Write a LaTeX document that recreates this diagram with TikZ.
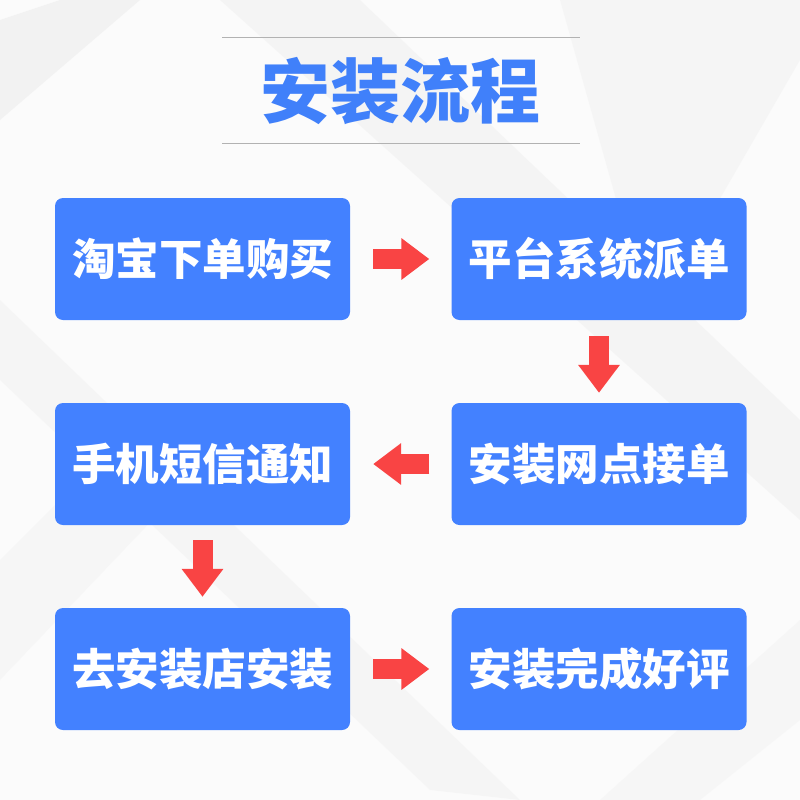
\documentclass[tikz,border=0pt]{standalone}
\usepackage{fontspec}
\newfontfamily\cjk{Noto Sans CJK SC}
\usetikzlibrary{arrows.meta}
\definecolor{boxblue}{HTML}{4381FF}
\definecolor{titleblue}{HTML}{4080FA}
\definecolor{arrowred}{HTML}{F94444}
\definecolor{bgshade}{HTML}{E6E6E6}
\tikzset{
  stepbox/.style={rounded corners=8pt, fill=boxblue, minimum width=295pt, minimum height=122pt,
    text=white, inner sep=0pt, font=\cjk\bfseries\fontsize{43.5}{43.5}\selectfont},
  flowarrow/.style={arrowred, line width=20pt, -{Triangle[length=28pt,width=40pt]}},
  rule/.style={draw=gray!60, line width=0.8pt}
}
\begin{document}
\begin{tikzpicture}[x=1pt,y=-1pt]
\useasboundingbox (0,0) rectangle (800,800);
\fill[white!97!gray] (0,0) rectangle (800,800);
% faint background geometry
\fill[bgshade, opacity=0.4] (0,20) -- (60,0) -- (140,0) -- (0,120) -- cycle;
\fill[bgshade, opacity=0.3] (220,0) -- (360,0) -- (800,420) -- (800,520) -- cycle;
\fill[bgshade, opacity=0.25] (0,300) -- (0,380) -- (430,790) -- (520,800) -- cycle;
\fill[bgshade, opacity=0.25] (560,0) -- (800,0) -- (800,60) -- (650,320) -- cycle;
\fill[bgshade, opacity=0.2] (0,560) -- (130,430) -- (200,470) -- (0,680) -- cycle;
\fill[bgshade, opacity=0.2] (600,800) -- (800,620) -- (800,720) -- (700,800) -- cycle;
% title
\coordinate (t1) at (222,37); \coordinate (t2) at (580,37);
\coordinate (b1) at (222,143); \coordinate (b2) at (580,143);
\draw[rule] (t1) -- (t2);
\draw[rule] (b1) -- (b2);
\node[font=\cjk\bfseries\fontsize{70}{70}\selectfont, text=titleblue] (title) at (400,91) {安装流程};
% boxes
\node[stepbox] (n1) at (202.5,259) {淘宝下单购买};
\node[stepbox] (n2) at (599,259) {平台系统派单};
\node[stepbox] (n3) at (599,464) {安装网点接单};
\node[stepbox] (n4) at (202.5,464) {手机短信通知};
\node[stepbox] (n5) at (202.5,669) {去安装店安装};
\node[stepbox] (n6) at (599,669) {安装完成好评};
% arrows
\draw[flowarrow, shorten <=23pt, shorten >=22pt] (n1.east) -- (n2.west);
\draw[flowarrow, shorten <=16pt, shorten >=10pt] (n2.south) -- (n3.north);
\draw[flowarrow, shorten <=22pt, shorten >=23pt] (n3.west) -- (n4.east);
\draw[flowarrow, shorten <=15pt, shorten >=11pt] (n4.south) -- (n5.north);
\draw[flowarrow, shorten <=23pt, shorten >=22pt] (n5.east) -- (n6.west);
\end{tikzpicture}
\end{document}
